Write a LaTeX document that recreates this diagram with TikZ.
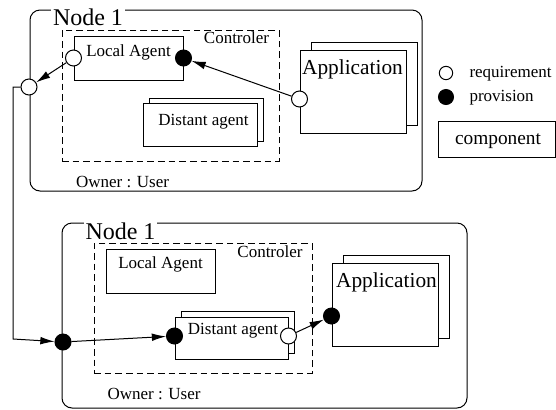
\documentclass[tikz,border=0pt]{standalone}
\usepackage{fontspec}
\setmainfont{Liberation Serif}
\usetikzlibrary{arrows.meta, calc, fit, shadows}
\tikzset{
    host/.style={draw, rounded corners=6pt, inner sep=0pt}, % the machine boxes
    ctrl/.style={draw, dash pattern=on 4pt off 2.4pt, inner sep=0pt}, % controller area
    comp/.style={draw, fill=white, inner sep=0pt}, % a component
    agentstack/.style={copy shadow={shadow xshift=3.6pt, shadow yshift=#1, draw=black, fill=white}},
    appstack/.style={copy shadow={shadow xshift=6.6pt, shadow yshift=4.5pt, draw=black, fill=white}},
    port/.style={circle, draw, inner sep=0pt, minimum size=9.6pt},
    req/.style={port, fill=white}, % requirement
    prov/.style={port, fill=black}, % provision
    link/.style={-{Latex[length=8.5pt, width=4.6pt]}},
    title/.style={font=\fontsize{14.4}{16}\selectfont, fill=white, inner sep=1pt},
    txt/.style={font=\fontsize{10.2}{12}\selectfont, inner sep=0pt},
    apptxt/.style={font=\fontsize{12.8}{14}\selectfont, inner sep=0pt},
    comptxt/.style={font=\fontsize{11.6}{13}\selectfont, inner sep=0pt},
}

\begin{document}
\begin{tikzpicture}[x=0.6pt, y=-0.6pt, line width=0.6pt]
    \useasboundingbox (0,0) rectangle (556,409);

    % first node
    \node[host, fit={(30,10) (422,191)}] (host1) {};
    \node[title] (title1) at (88,17) {Node 1};
    \node[ctrl, fit={(62,30) (279,161)}] (ctrl1) {};
    \node[txt] (ctrltxt1) at (236.5,38) {Controler};
    \node[comp, fit={(74,36) (183,80)}] (la1) {};
    \node[txt] (latxt1) at (128.5,52) {Local Agent};
    \node[comp, agentstack={3pt}, fit={(143,103) (257,146)}] (da1) {};
    \node[txt] (datxt1) at (203.5,121.5) {Distant agent};
    \node[comp, appstack, fit={(300,50) (406,133)}] (app1) {};
    \node[apptxt] (apptxt1) at (352.5,69.5) {Application};
    \node[txt] (owner1) at (122.5,181.5) {Owner : User};

    \node[req] (p1) at (29,87) {};
    \node[req] (la1req) at (la1.west) {};
    \node[prov] (la1prov) at (la1.east) {};
    \node[req] (app1req) at ($(app1.west)+(0,7.5)$) {};

    % second node
    \node[host, fit={(62,223) (467,408)}] (host2) {};
    \node[title] (title2) at (120.5,231.5) {Node 1};
    \node[ctrl, fit={(94,243) (312,373)}] (ctrl2) {};
    \node[txt] (ctrltxt2) at (270,252) {Controler};
    \node[comp, fit={(106,249) (215,293)}] (la2) {};
    \node[txt] (latxt2) at (160.5,264.5) {Local Agent};
    \node[comp, agentstack={3.6pt}, fit={(175,317) (288,359)}] (da2) {};
    \node[txt] (datxt2) at (233,330.5) {Distant agent};
    \node[comp, appstack, fit={(332,263) (438,346)}] (app2) {};
    \node[apptxt] (apptxt2) at (386.5,282) {Application};
    \node[txt] (owner2) at (154,394) {Owner : User};

    \node[prov] (p2) at (63,342) {};
    \node[prov] (da2prov) at ($(da2.west)+(0,-2)$) {};
    \node[req] (da2req) at ($(da2.east)+(0,-2)$) {};
    \node[prov] (app2prov) at ($(app2.west)+(0,11.5)$) {};

    % connections
    \coordinate (bendA) at (13,87);
    \coordinate (bendB) at (13,339);
    \draw[link] (la1req) -- (p1);
    \draw[link] (app1req) -- (la1prov);
    \draw[link] (p1) -- (bendA) -- (bendB) -- (p2);
    \draw[link] (p2) -- (da2prov);
    \draw[link] (da2req) -- (app2prov);

    % legend
    \node[req, minimum size=8pt] (legreq) at (446,73) {};
    \node[txt, anchor=west] (legreqtxt) at (469,73.5) {requirement};
    \node[prov, minimum size=9pt] (legprov) at (446,97) {};
    \node[txt, anchor=west] (legprovtxt) at (469,98) {provision};
    \node[comp, fit={(438,121) (555,157)}] (legcomp) {};
    \node[comptxt] (legcomptxt) at (498,141.5) {component};
\end{tikzpicture}
\end{document}
